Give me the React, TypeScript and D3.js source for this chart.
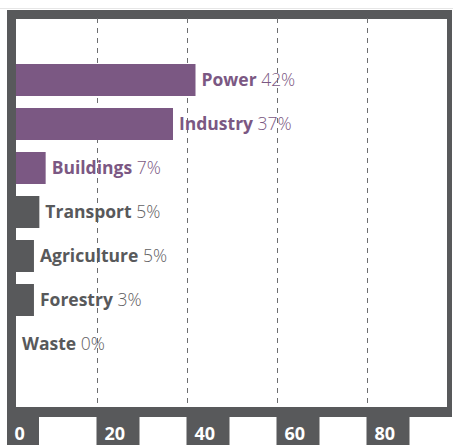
import React from "react";
import * as d3 from "d3";

const sectors = ["Power", "Industry", "Buildings", "Transport", "Agriculture", "Forestry", "Waste"];
const shareLabels = [42, 37, 7, 5, 5, 3, 0];
const barLengths = [42, 37, 8.7, 7.3, 6.1, 6.1, 0];
const highlighted = [true, true, true, false, false, false, false];
const ticks = [0, 20, 40, 60, 80];

const W = 453;
const H = 445;
const GRAY = "#58595B";
const PURPLE = "#7B5883";
const FONT = "'Open Sans', sans-serif";

export default function App() {
  const x = d3.scaleLinear().domain([0, 100]).range([6.5, 456.5]);
  const y = d3
    .scaleBand<string>()
    .domain(sectors)
    .range([64, 360])
    .paddingInner(12 / 44)
    .paddingOuter(0);

  const frame = { x0: 7, y0: 10, x1: 452, y1: 417 };
  const inner = { x0: 16, y0: 19, x1: 447, y1: 407 };

  return (
    <svg
      width={W}
      height={H}
      style={{ position: "absolute", left: 0, top: 0, background: "#fff" }}
      fontFamily={FONT}
    >
      <line x1={0} x2={W} y1={8.5} y2={8.5} stroke="#e6e6e6" strokeWidth={1} />
      <rect x={frame.x0} y={frame.y0} width={frame.x1 - frame.x0} height={frame.y1 - frame.y0} fill={GRAY} />
      <rect x={inner.x0} y={inner.y0} width={inner.x1 - inner.x0} height={inner.y1 - inner.y0} fill="#fff" />
      {ticks.filter((t) => t > 0).map((t) => (
        <line
          key={"g" + t}
          x1={Math.round(x(t)) + 0.5}
          x2={Math.round(x(t)) + 0.5}
          y1={inner.y0 - 1}
          y2={inner.y1}
          stroke="#6d6e70"
          strokeWidth={1}
          strokeDasharray="5,5"
        />
      ))}
      {sectors.map((s, i) => {
        const col = highlighted[i] ? PURPLE : GRAY;
        const end = x(barLengths[i]);
        const by = y(s)!;
        const bh = y.bandwidth();
        const lx = Math.max(end, inner.x0) + 6;
        return (
          <g key={s}>
            {end > inner.x0 && (
              <rect x={inner.x0} y={by} width={end - inner.x0} height={bh} fill={col} />
            )}
            <text x={lx} y={by + bh / 2 + 6} fontSize={17.5} fill={col}>
              <tspan fontWeight={700}>{s}</tspan>
              <tspan fontWeight={300} fill={highlighted[i] ? PURPLE : "#5f6062"}>{" " + shareLabels[i] + "%"}</tspan>
            </text>
          </g>
        );
      })}
      {ticks.map((t) => {
        const tx = x(t);
        const label = String(t);
        const bx = Math.max(tx, frame.x0);
        const bw = tx + 22 + 10.5 * label.length - bx;
        return (
          <g key={"t" + t}>
            <rect x={bx} y={frame.y1 - 1} width={bw} height={H - frame.y1 + 1} fill={GRAY} />
            <text x={tx + 8} y={439.5} fontSize={18} fontWeight={700} fill="#fff">
              {label}
            </text>
          </g>
        );
      })}
    </svg>
  );
}
